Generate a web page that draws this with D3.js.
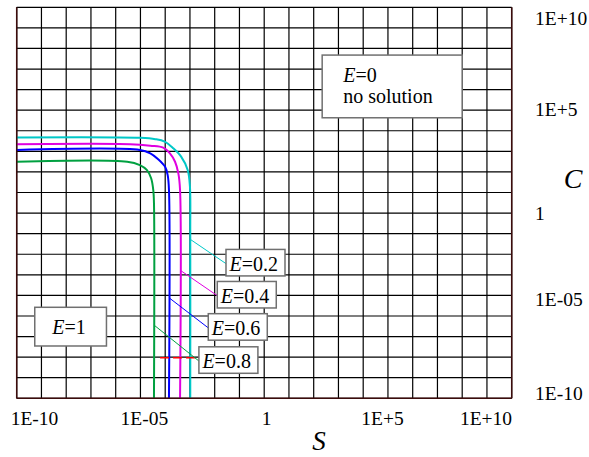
<!DOCTYPE html>
<html>
<head>
<meta charset="utf-8">
<script src="https://cdn.jsdelivr.net/npm/d3@7"></script>
<style>
  body { margin: 0; background: #fff; }
  svg { display: block; }
</style>
</head>
<body>
<svg width="589" height="457"></svg>
<script>

// curves: S values and C values, one pair per E
let sE02 = [1e-10, 1e-5, 4e-5, 9.5e-5, 2.1e-4, 4.4e-4, 8.1e-4, 1.0e-3, 1.03e-3, 1.03e-3];
let cE02 = [2.2e3, 2.1e3, 1.8e3, 1.35e3, 6.2e2, 2.3e2, 48, 6.6, 4e-2, 1e-10];

let sE04 = [1e-10, 3.8e-6, 2.5e-5, 8.3e-5, 1.55e-4, 2.5e-4, 3.4e-4, 3.98e-4, 3.98e-4];
let cE04 = [1.0e3, 1.0e3, 8.3e2, 6.6e2, 3.4e2, 1.26e2, 32, 4.5, 1e-10];

let sE06 = [1e-10, 9.5e-6, 2.5e-5, 5.2e-5, 9.8e-5, 1.26e-4, 1.42e-4, 1.42e-4];
let cE06 = [5.0e2, 5.0e2, 3.4e2, 1.7e2, 71, 26, 4.5, 1e-10];

let sE08 = [1e-10, 2.9e-6, 9.5e-6, 1.8e-5, 2.7e-5, 3.3e-5, 3.52e-5, 3.52e-5];
let cE08 = [126, 126, 85, 48, 18, 4.5, 0.93, 1e-10];

let sRed = [6.2e-5, 1.9e-3];
let cRed = [1.2e-8, 1.2e-8];

// labels of the E curves and where their leaders start / boxes sit
let eLabels = ['0.2', '0.4', '0.6', '0.8'];
let leaderC = [1.35e-2, 3.6e-4, 1.4e-5, 5.6e-7];
let boxS = [2.86e-2, 1.27e-2, 5.5e-3, 2.3e-3];
let boxC = [8.7e-4, 2.0e-5, 4.5e-7, 9.1e-9];

let xTickVals = [1e-10, 1e-5, 1, 1e5, 1e10];
let xTickLabels = ['1E-10', '1E-05', '1', '1E+5', '1E+10'];
let yTickVals = [1e10, 1e5, 1, 1e-5, 1e-10];
let yTickLabels = ['1E+10', '1E+5', '1', '1E-05', '1E-10'];

let plotLeft = 16.7, plotRight = 511.7, plotTop = 7.3, plotBottom = 398.3;
let serif = 'Liberation Serif';

let svg = d3.select('svg')
            .attr('font-family', serif);

let xScale = d3.scaleLog()
               .domain([1e-10, 1e10])
               .range([plotLeft, plotRight]);

let yScale = d3.scaleLog()
               .domain([1e-10, 1e10])
               .range([plotBottom, plotTop]);

// grid: one column per decade, 19 rows
let vGrid = d3.range(-10, 11).map(function(e) { return Math.pow(10, e); });
let hGrid = d3.range(20).map(function(i) { return plotTop + i * (plotBottom - plotTop) / 19; });

svg.append('g')
   .selectAll('line')
   .data(vGrid)
   .enter()
   .append('line')
   .attr('x1', function(d) { return xScale(d); })
   .attr('x2', function(d) { return xScale(d); })
   .attr('y1', plotTop)
   .attr('y2', plotBottom)
   .attr('stroke', '#000')
   .attr('stroke-width', 1.2);

svg.append('g')
   .selectAll('line')
   .data(hGrid)
   .enter()
   .append('line')
   .attr('x1', plotLeft)
   .attr('x2', plotRight)
   .attr('y1', function(d) { return d; })
   .attr('y2', function(d) { return d; })
   .attr('stroke', '#000')
   .attr('stroke-width', 1.2);

// curves
let curveLine = d3.line()
                  .x(function(d) { return xScale(d[0]); })
                  .y(function(d) { return yScale(d[1]); })
                  .curve(d3.curveCatmullRom.alpha(0.5));

let series = [
  { s: sE08, c: cE08, color: '#00a040' },
  { s: sE06, c: cE06, color: '#0000ff' },
  { s: sE04, c: cE04, color: '#e000e0' },
  { s: sE02, c: cE02, color: '#00c8c8' }
];

series.forEach(function(ser) {
  svg.append('path')
     .attr('d', curveLine(d3.zip(ser.s, ser.c)))
     .attr('fill', 'none')
     .attr('stroke', ser.color)
     .attr('stroke-width', 2);
});

svg.append('path')
   .attr('d', d3.line()
                .x(function(d) { return xScale(d[0]); })
                .y(function(d) { return yScale(d[1]); })(d3.zip(sRed, cRed)))
   .attr('fill', 'none')
   .attr('stroke', '#ff0000')
   .attr('stroke-width', 1.5)
   .attr('stroke-dasharray', '9,4');

// leaders and E boxes
let leaderColors = ['#00c8c8', '#e000e0', '#0000ff', '#00a040'];
let leaderStartS = [sE02[sE02.length - 1], sE04[sE04.length - 1], sE06[sE06.length - 1], sE08[sE08.length - 1]];

eLabels.forEach(function(lab, i) {
  let bx = xScale(boxS[i]);
  let by = yScale(boxC[i]);

  svg.append('line')
     .attr('x1', xScale(leaderStartS[i]))
     .attr('y1', yScale(leaderC[i]))
     .attr('x2', bx)
     .attr('y2', by + 1)
     .attr('stroke', leaderColors[i])
     .attr('stroke-width', 1);

  svg.append('rect')
     .attr('x', bx)
     .attr('y', by - 13.2)
     .attr('width', 59)
     .attr('height', 26.5)
     .attr('fill', '#fff')
     .attr('stroke', '#707070')
     .attr('stroke-width', 1.5);

  let t = svg.append('text')
             .attr('x', bx + 3.5)
             .attr('y', by + 8)
             .attr('font-size', 20)
             .attr('font-family', serif)
             .attr('fill', '#000');
  t.append('tspan').attr('font-style', 'italic').text('E');
  t.append('tspan').text('=' + lab);
});

// E=1 box
let e1x = xScale(1.5e-8), e1y = yScale(4.6e-7);
svg.append('rect')
   .attr('x', e1x - 35.8)
   .attr('y', e1y - 19.4)
   .attr('width', 71.7)
   .attr('height', 38.7)
   .attr('fill', '#fff')
   .attr('stroke', '#707070')
   .attr('stroke-width', 1.5);
let t1 = svg.append('text')
            .attr('x', e1x - 1.5)
            .attr('y', e1y + 7.6)
            .attr('text-anchor', 'middle')
            .attr('font-family', serif)
            .attr('font-size', 20);
t1.append('tspan').attr('font-style', 'italic').text('E');
t1.append('tspan').text('=1');

// E=0 box
let e0x = xScale(2.2e2), e0y = yScale(3.6e7);
svg.append('rect')
   .attr('x', e0x)
   .attr('y', e0y)
   .attr('width', 140)
   .attr('height', 62.7)
   .attr('fill', '#fff')
   .attr('stroke', '#707070')
   .attr('stroke-width', 1.5);
let t0 = svg.append('text')
            .attr('x', e0x + 21)
            .attr('y', e0y + 26.7)
            .attr('font-family', serif)
            .attr('font-size', 20);
t0.append('tspan').attr('font-style', 'italic').text('E');
t0.append('tspan').text('=0');
svg.append('text')
   .attr('x', e0x + 21)
   .attr('y', e0y + 48.3)
   .attr('font-family', serif)
   .attr('font-size', 20)
   .text('no solution');

// frame
let frameColor = '#3c0c0c';
svg.append('line').attr('x1', plotLeft).attr('x2', plotLeft).attr('y1', plotTop).attr('y2', plotBottom)
   .attr('stroke', frameColor).attr('stroke-width', 1.5);
svg.append('line').attr('x1', plotRight).attr('x2', plotRight).attr('y1', plotTop).attr('y2', plotBottom)
   .attr('stroke', frameColor).attr('stroke-width', 1.5);
svg.append('line').attr('x1', plotLeft).attr('x2', plotRight).attr('y1', plotBottom).attr('y2', plotBottom)
   .attr('stroke', frameColor).attr('stroke-width', 1.5);

// axes (labels only, pulled inward like the original)
let xNudge = [17.3, 3.5, 1.8, -6, -26.2];
let yNudge = [17.7, 10, 16.2, 4.5, 0.7];

let xAxis = d3.axisBottom(xScale)
              .tickValues(xTickVals)
              .tickFormat(function(d, i) { return xTickLabels[i]; })
              .tickSize(0);

let xAxisG = svg.append('g')
                .attr('id', 'xAxisG')
                .attr('transform', 'translate(0,' + plotBottom + ')')
                .call(xAxis);
xAxisG.select('.domain').remove();
xAxisG.attr('font-family', serif).attr('font-size', 19.5);
xAxisG.selectAll('text')
      .attr('y', 27)
      .attr('dy', 0)
      .attr('dx', function(d, i) { return xNudge[i]; })
      .attr('fill', '#000');

let yAxis = d3.axisRight(yScale)
              .tickValues(yTickVals)
              .tickFormat(function(d, i) { return yTickLabels[i]; })
              .tickSize(0)
              .tickPadding(0);

let yAxisG = svg.append('g')
                .attr('id', 'yAxisG')
                .attr('transform', 'translate(535,0)')
                .call(yAxis);
yAxisG.select('.domain').remove();
yAxisG.attr('font-family', serif).attr('font-size', 19.5);
yAxisG.selectAll('text')
      .attr('x', 0)
      .attr('dy', 0)
      .attr('y', function(d, i) { return yNudge[i]; })
      .attr('text-anchor', 'start')
      .attr('fill', '#000');

// axis names
svg.append('text')
   .attr('x', 319)
   .attr('y', 450)
   .attr('text-anchor', 'middle')
   .attr('font-family', serif)
   .attr('font-style', 'italic')
   .attr('font-size', 27)
   .text('S');

svg.append('text')
   .attr('x', 573)
   .attr('y', 188)
   .attr('text-anchor', 'middle')
   .attr('font-family', serif)
   .attr('font-style', 'italic')
   .attr('font-size', 28)
   .text('C');

</script>
</body>
</html>
